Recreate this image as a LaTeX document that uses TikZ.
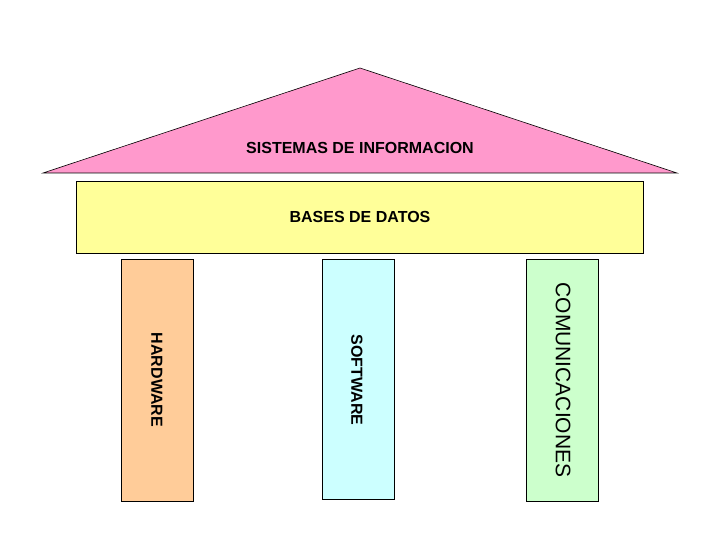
\documentclass[tikz,border=0pt]{standalone}
\usepackage{fontspec}
\setmainfont{Liberation Sans}
\begin{document}
\begin{tikzpicture}[x=1pt,y=-1pt,
  part/.style={draw=black,line width=0.6pt},
  lbl/.style={font=\bfseries\fontsize{16}{18}\selectfont}]
\useasboundingbox (0,0) rectangle (720,540);
\fill[white] (0,0) rectangle (720,540);
\filldraw[part,fill={rgb,255:red,255;green,153;blue,204}] (43,173) coordinate (tl) -- (360,68) coordinate (tt) -- (677,173) coordinate (tr) -- cycle;
\node[lbl] (si) at (360,148) {SISTEMAS DE INFORMACION};
\filldraw[part,fill={rgb,255:red,255;green,255;blue,153}] (76,181) rectangle (643,253);
\node[lbl] (bd) at (360,217) {BASES DE DATOS};
\filldraw[part,fill={rgb,255:red,255;green,204;blue,153}] (121,259) rectangle (193,501);
\node[lbl,rotate=-90] (hw) at (157,380) {HARDWARE};
\filldraw[part,fill={rgb,255:red,204;green,255;blue,255}] (322,259) rectangle (394,499);
\node[lbl,rotate=-90] (sw) at (357,380) {SOFTWARE};
\filldraw[part,fill={rgb,255:red,204;green,255;blue,204}] (526,259) rectangle (598,501);
\node[rotate=-90,font=\fontsize{21}{24}\selectfont] (co) at (563,380) {COMUNICACIONES};
\end{tikzpicture}
\end{document}
